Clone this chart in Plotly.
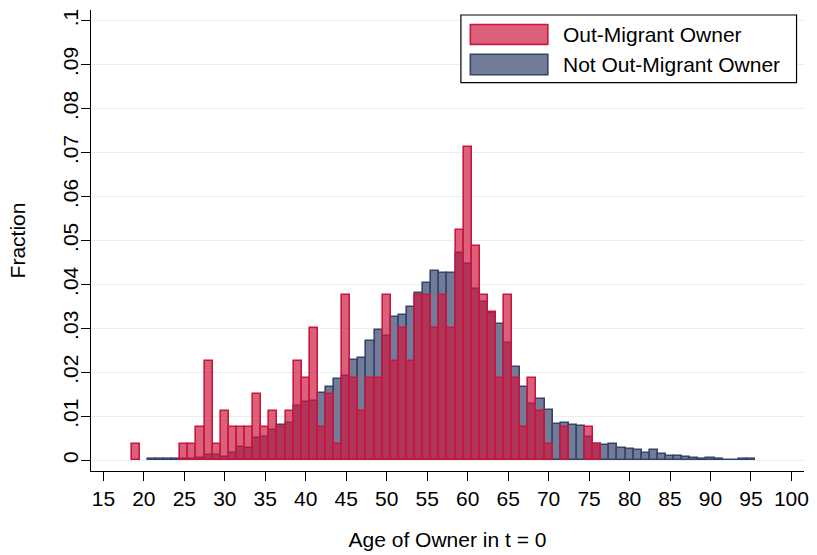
import plotly.graph_objects as go

# Age of owner at t = 0 (integer bins of width 1)
ages_out = [19, 25, 26, 27, 28, 29, 30, 31, 32, 33, 34, 35, 36, 37, 38, 39, 40,
            41, 42, 43, 44, 45, 46, 47, 48, 49, 50, 51, 52, 53, 54, 55, 56, 57,
            58, 59, 60, 61, 62, 63, 64, 65, 66, 67, 68, 69, 70, 72, 75, 76]
frac_out = [0.0037, 0.0037, 0.0037, 0.0075, 0.0225, 0.0037, 0.0112, 0.0075,
            0.0075, 0.0075, 0.0150, 0.0075, 0.0112, 0.0075, 0.0112, 0.0225,
            0.0187, 0.0300, 0.0075, 0.0150, 0.0037, 0.0375, 0.0187, 0.0112,
            0.0187, 0.0187, 0.0375, 0.0225, 0.0300, 0.0225, 0.0375, 0.0375,
            0.0300, 0.0375, 0.0300, 0.0524, 0.0712, 0.0487, 0.0375, 0.0337,
            0.0187, 0.0375, 0.0187, 0.0075, 0.0187, 0.0112, 0.0037, 0.0075,
            0.0075, 0.0037]

ages_stay = list(range(21, 96))
frac_stay = [0.0003, 0.0002, 0.0002, 0.0003, 0.0003, 0.0004, 0.0006, 0.0011,
             0.0011, 0.0008, 0.0017, 0.0031, 0.0029, 0.0050, 0.0053, 0.0068,
             0.0080, 0.0084, 0.0123, 0.0132, 0.0135, 0.0154, 0.0167, 0.0185,
             0.0191, 0.0228, 0.0232, 0.0271, 0.0296, 0.0282, 0.0325, 0.0330,
             0.0348, 0.0380, 0.0403, 0.0431, 0.0425, 0.0425, 0.0472, 0.0447,
             0.0390, 0.0360, 0.0336, 0.0310, 0.0267, 0.0213, 0.0167, 0.0129,
             0.0140, 0.0114, 0.0083, 0.0086, 0.0080, 0.0077, 0.0052, 0.0036,
             0.0034, 0.0038, 0.0028, 0.0025, 0.0023, 0.0016, 0.0023, 0.0015,
             0.0009, 0.0009, 0.0007, 0.0005, 0.0002, 0.0005, 0.0002, 0.0,
             0.0, 0.0003, 0.0003]

x_ticks = list(range(15, 101, 5))
y_ticks = [i / 100 for i in range(11)]
y_ticktext = ["0", ".01", ".02", ".03", ".04", ".05", ".06", ".07", ".08", ".09", ".1"]

name_out = "Out-Migrant Owner"
name_stay = "Not Out-Migrant Owner"

FONT = "Arial, Liberation Sans, sans-serif"
RED_FILL = "rgba(205,20,60,0.68)"
RED_LINE = "rgb(200,22,62)"
BLUE_FILL = "rgb(113,124,153)"
BLUE_LINE = "rgb(55,68,105)"

fig = go.Figure()
fig.add_trace(go.Bar(
    x=ages_stay, y=frac_stay, name=name_stay, width=1,
    marker=dict(color=BLUE_FILL, line=dict(color=BLUE_LINE, width=1.6)),
    showlegend=False,
))
fig.add_trace(go.Bar(
    x=ages_out, y=frac_out, name=name_out, width=1,
    marker=dict(color=RED_FILL, line=dict(color=RED_LINE, width=1.6)),
    showlegend=False,
))

# Plot area geometry in pixels (used to place the boxed legend)
W, H = 817, 555
ML, MR, MT, MB = 91, 8, 10, 82
PW, PH = W - ML - MR, H - MT - MB


def px(xp):
    return (xp - ML) / PW


def py(yp):
    return (H - MB - yp) / PH


shapes = [
    dict(type="rect", xref="paper", yref="paper",
         x0=px(463.5), x1=px(801.5), y0=py(83), y1=py(15),
         line=dict(color="black", width=1.2), fillcolor="white", layer="above"),
    dict(type="rect", xref="paper", yref="paper",
         x0=px(473), x1=px(551), y0=py(44.5), y1=py(24.5),
         line=dict(color=RED_LINE, width=1.6), fillcolor=RED_FILL, layer="above"),
    dict(type="rect", xref="paper", yref="paper",
         x0=px(473), x1=px(551), y0=py(75), y1=py(54.5),
         line=dict(color=BLUE_LINE, width=1.6), fillcolor=BLUE_FILL, layer="above"),
]
annotations = [
    dict(text=name_out, xref="paper", yref="paper", x=px(564), y=py(34.5),
         xanchor="left", yanchor="middle", showarrow=False,
         font=dict(family=FONT, size=21, color="black")),
    dict(text=name_stay, xref="paper", yref="paper", x=px(564), y=py(65),
         xanchor="left", yanchor="middle", showarrow=False,
         font=dict(family=FONT, size=21, color="black")),
]

fig.update_layout(
    width=W, height=H,
    margin=dict(l=ML, r=MR, t=MT, b=MB, pad=0),
    paper_bgcolor="white", plot_bgcolor="white",
    barmode="overlay", bargap=0,
    font=dict(family=FONT, size=21, color="black"),
    shapes=shapes, annotations=annotations,
    xaxis=dict(
        range=[13.47, 101.55], tickvals=x_ticks,
        ticks="outside", ticklen=9, tickwidth=1.3, tickcolor="black",
        showline=True, linecolor="black", linewidth=1.3,
        showgrid=False, zeroline=False,
        tickfont=dict(size=21),
        title=dict(text="Age of Owner in t = 0", font=dict(size=21), standoff=22),
    ),
    yaxis=dict(
        range=[-0.00243, 0.10243], tickvals=y_ticks, ticktext=y_ticktext,
        tickangle=-90, ticklabelstandoff=-6,
        ticks="outside", ticklen=9, tickwidth=1.3, tickcolor="black",
        showline=True, linecolor="black", linewidth=1.3,
        showgrid=True, gridcolor="#e8efef", gridwidth=1.3, zeroline=False,
        tickfont=dict(size=21),
        title=dict(text="Fraction", font=dict(size=21), standoff=28),
    ),
)

fig.write_html("out.html")
